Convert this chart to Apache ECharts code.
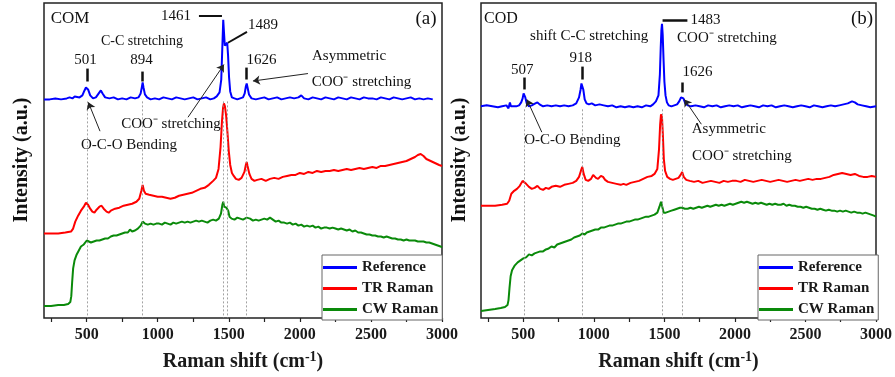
<!DOCTYPE html>
<html>
<head>
<meta charset="utf-8">
<script src="https://cdn.jsdelivr.net/npm/echarts@6/dist/echarts.min.js"></script>
<style>
  html, body { margin: 0; padding: 0; background: #fff; }
  #chart { width: 895px; height: 377px; }
</style>
</head>
<body>
<div id="chart"></div>
<script>
// Raman spectra of calcium oxalate: COM (panel a) and COD (panel b).
// Each series is a list of [Raman shift (cm-1), intensity (a.u., offset stacked)].

const comReference = [[200,220],[240,220],[280,221],[320,220],[360,221],[380,222],[400,221],[416,223],[430,221],[450,222],[470,224],[485,229],[495,232],[501,233],[510,230],[525,224],[545,221],[565,222],[585,226],[600,229],[612,226],[630,222],[660,221],[690,222],[720,220],[750,221],[780,220],[810,222],[840,221],[865,222],[880,226],[888,232],[894,237],[900,232],[910,225],[925,222],[950,220],[980,221],[1010,220],[1040,222],[1070,221],[1100,220],[1130,222],[1160,221],[1190,220],[1220,221],[1250,222],[1280,220],[1310,221],[1340,222],[1370,220],[1395,221],[1415,223],[1435,227],[1447,240],[1454,270],[1461,300],[1466,288],[1472,274],[1480,273],[1489,277],[1495,264],[1502,242],[1510,228],[1522,222],[1540,221],[1560,220],[1580,221],[1600,222],[1612,226],[1620,233],[1626,236],[1632,232],[1642,225],[1660,221],[1690,220],[1720,221],[1750,222],[1780,220],[1810,221],[1840,222],[1870,220],[1900,221],[1930,222],[1960,221],[1990,222],[2010,224],[2030,221],[2060,220],[2090,222],[2120,221],[2150,220],[2180,222],[2210,221],[2240,220],[2270,222],[2300,221],[2330,220],[2360,222],[2390,221],[2420,220],[2450,222],[2480,221],[2510,221],[2540,220],[2570,222],[2600,221],[2630,220],[2660,222],[2690,221],[2720,220],[2750,221],[2780,222],[2810,220],[2840,221],[2870,220],[2900,221],[2935,220]];

const comTR = [[200,85],[250,85],[300,85],[350,86],[390,87],[405,90],[420,97],[440,103],[460,108],[480,112],[495,116],[501,117],[510,114],[525,110],[540,107],[555,106],[570,109],[590,112],[605,113],[620,110],[640,107],[655,106],[670,108],[700,110],[730,111],[760,113],[790,114],[820,115],[850,117],[870,120],[885,128],[894,134],[903,128],[915,125],[940,124],[970,123],[1000,122],[1030,122],[1060,121],[1090,120],[1120,121],[1150,123],[1180,124],[1210,125],[1240,126],[1270,128],[1300,130],[1330,131],[1360,134],[1390,138],[1410,141],[1428,150],[1442,172],[1452,198],[1460,212],[1466,216],[1473,213],[1481,204],[1490,188],[1500,168],[1510,154],[1522,146],[1535,143],[1550,140],[1570,139],[1590,141],[1610,147],[1620,154],[1626,157],[1632,153],[1645,145],[1660,140],[1680,138],[1700,139],[1730,140],[1760,138],[1790,140],[1820,141],[1850,140],[1880,142],[1910,143],[1940,144],[1970,144],[2000,146],[2030,145],[2060,147],[2090,146],[2120,148],[2150,147],[2180,148],[2210,148],[2240,149],[2270,148],[2300,149],[2330,150],[2360,149],[2390,150],[2420,151],[2450,150],[2480,151],[2510,152],[2540,151],[2570,153],[2600,153],[2630,154],[2660,155],[2690,156],[2720,157],[2750,158],[2780,160],[2810,162],[2830,164],[2850,165],[2870,163],[2890,160],[2920,158],[2950,156],[2980,154],[3000,153]];

const comCW = [[200,12],[250,12],[300,13],[340,13],[370,14],[385,16],[392,22],[398,36],[405,50],[415,58],[430,64],[445,68],[460,72],[480,74],[501,78],[515,77],[530,76],[550,77],[570,78],[590,78],[610,79],[630,80],[650,80],[670,82],[690,83],[710,83],[730,84],[750,85],[770,86],[790,86],[805,89],[820,87],[840,88],[860,90],[880,93],[894,97],[910,95],[930,94],[950,95],[970,94],[990,95],[1010,95],[1030,94],[1050,96],[1070,95],[1090,94],[1110,96],[1130,95],[1150,96],[1170,97],[1190,96],[1210,97],[1230,96],[1250,97],[1270,98],[1290,97],[1310,98],[1330,97],[1350,96],[1370,98],[1390,99],[1410,98],[1430,100],[1445,105],[1455,114],[1461,117],[1467,112],[1475,110],[1483,111],[1489,113],[1496,108],[1505,102],[1520,100],[1540,99],[1560,101],[1580,100],[1600,99],[1626,101],[1650,100],[1670,98],[1690,99],[1710,98],[1730,99],[1750,100],[1770,99],[1790,101],[1810,99],[1830,97],[1850,98],[1870,96],[1890,96],[1910,95],[1930,96],[1950,94],[1970,95],[1990,93],[2010,94],[2030,92],[2050,93],[2070,92],[2090,93],[2110,91],[2130,92],[2150,90],[2170,91],[2190,91],[2210,90],[2230,91],[2250,90],[2270,89],[2290,90],[2310,89],[2330,88],[2350,89],[2370,87],[2390,88],[2410,86],[2430,86],[2450,85],[2470,84],[2490,84],[2510,83],[2530,83],[2550,82],[2570,82],[2590,81],[2610,82],[2630,81],[2650,80],[2670,80],[2690,79],[2710,79],[2730,78],[2750,79],[2770,78],[2790,78],[2810,78],[2830,77],[2850,77],[2870,77],[2890,76],[2910,76],[2930,75],[2950,74],[2970,73],[2990,72],[3000,71]];

const codReference = [[200,213],[240,214],[280,213],[320,212],[350,213],[380,214],[395,211],[405,217],[412,213],[425,212],[450,213],[470,214],[485,217],[495,221],[502,226],[507,228],[514,222],[524,216],[540,213],[560,214],[585,216],[600,217],[615,215],[640,213],[670,214],[700,213],[730,214],[760,213],[790,214],[820,213],[850,214],[875,216],[895,222],[906,230],[912,236],[918,238],[925,230],[935,220],[948,216],[965,215],[985,216],[1010,214],[1040,215],[1070,214],[1100,213],[1130,214],[1160,212],[1190,213],[1220,212],[1250,213],[1280,212],[1310,213],[1340,212],[1370,214],[1400,213],[1420,215],[1440,218],[1458,224],[1468,245],[1474,272],[1479,290],[1483,296],[1488,285],[1494,260],[1500,238],[1508,224],[1518,217],[1530,214],[1550,213],[1570,214],[1590,215],[1605,218],[1618,222],[1626,223],[1635,221],[1648,216],[1665,214],[1690,213],[1720,214],[1750,213],[1780,212],[1810,214],[1840,213],[1870,214],[1900,212],[1930,213],[1960,214],[1990,213],[2020,214],[2050,212],[2080,213],[2110,214],[2140,213],[2170,212],[2200,214],[2230,213],[2260,214],[2290,212],[2320,213],[2350,214],[2380,213],[2410,212],[2440,213],[2470,214],[2500,213],[2530,212],[2560,214],[2590,213],[2620,212],[2650,213],[2680,214],[2710,213],[2740,214],[2770,215],[2800,216],[2830,218],[2850,217],[2870,215],[2900,214],[2930,213],[2960,212],[3000,213]];

const codTR = [[200,113],[250,113],[300,113],[350,114],[385,115],[400,118],[415,125],[435,128],[455,130],[475,133],[495,138],[507,140],[520,135],[540,132],[560,130],[580,131],[600,133],[620,130],[640,129],[660,131],[680,130],[700,132],[730,133],[760,132],[790,134],[820,135],[850,136],[875,138],[895,142],[908,148],[918,152],[928,145],[942,139],[960,138],[980,140],[995,144],[1005,145],[1015,141],[1030,140],[1050,143],[1065,142],[1080,139],[1100,137],[1130,136],[1160,135],[1190,134],[1210,135],[1230,134],[1260,136],[1290,137],[1320,138],[1350,140],[1380,142],[1410,143],[1430,145],[1450,150],[1462,170],[1470,195],[1476,205],[1483,202],[1489,185],[1496,160],[1505,148],[1520,142],[1540,140],[1560,139],[1580,140],[1600,141],[1615,144],[1626,147],[1637,142],[1655,139],[1680,138],[1710,137],[1740,138],[1770,136],[1800,137],[1830,138],[1860,137],[1890,136],[1920,138],[1950,137],[1980,138],[2010,138],[2040,137],[2070,139],[2100,138],[2130,137],[2160,138],[2190,139],[2220,138],[2250,137],[2280,138],[2310,139],[2340,138],[2370,137],[2400,138],[2430,139],[2460,138],[2490,139],[2520,140],[2550,139],[2580,140],[2610,140],[2640,141],[2670,142],[2700,144],[2730,145],[2760,146],[2790,145],[2820,144],[2850,145],[2880,143],[2910,142],[2940,142],[2970,143],[3000,142]];

const codCW = [[200,7],[250,8],[300,9],[340,10],[370,11],[388,13],[395,18],[402,30],[410,42],[420,48],[440,53],[460,56],[480,58],[500,60],[507,61],[520,61],[540,64],[560,63],[580,65],[600,66],[620,67],[640,67],[660,69],[680,70],[700,72],[720,71],[740,74],[760,75],[780,76],[800,77],[820,78],[840,79],[860,81],[880,82],[900,83],[918,85],[935,84],[950,86],[970,87],[990,88],[1010,89],[1030,89],[1050,91],[1070,91],[1090,92],[1110,93],[1130,93],[1150,94],[1170,95],[1190,95],[1210,96],[1230,97],[1250,97],[1270,98],[1290,99],[1310,99],[1330,100],[1350,101],[1370,102],[1390,102],[1410,103],[1430,104],[1450,106],[1465,112],[1476,117],[1485,112],[1495,106],[1510,106],[1530,107],[1550,108],[1570,109],[1590,110],[1610,111],[1626,111],[1645,110],[1665,110],[1685,111],[1705,110],[1725,111],[1745,112],[1765,111],[1785,112],[1805,113],[1825,112],[1845,113],[1865,114],[1885,113],[1905,114],[1925,113],[1945,114],[1965,115],[1985,114],[2005,115],[2025,116],[2045,117],[2065,116],[2085,117],[2105,116],[2125,115],[2145,116],[2165,115],[2185,116],[2205,115],[2225,114],[2245,115],[2265,114],[2285,115],[2305,114],[2325,114],[2345,115],[2365,113],[2385,114],[2405,113],[2425,113],[2445,112],[2465,112],[2485,111],[2505,112],[2525,111],[2545,110],[2565,110],[2585,109],[2605,110],[2625,109],[2645,108],[2665,109],[2685,108],[2705,108],[2725,107],[2745,108],[2765,107],[2785,108],[2805,107],[2825,106],[2845,107],[2865,106],[2885,106],[2905,105],[2925,106],[2945,105],[2965,104],[2985,103],[3000,102]];

// Peak positions marked with dotted guides
const comPeaks = [501, 894, 1461, 1489, 1626];
const codPeaks = [507, 918, 1483, 1626];

// Axis ticks
const tickValues = [250, 500, 750, 1000, 1250, 1500, 1750, 2000, 2250, 2500, 2750, 3000];
const labelValues = [500, 1000, 1500, 2000, 2500, 3000];
const seriesNames = ['Reference', 'TR Raman', 'CW Raman'];
const seriesColors = ['#0000ff', '#ff0000', '#0a8a0a'];

const SERIF = "'Liberation Serif', 'Times New Roman', serif";
const chart = echarts.init(document.getElementById('chart'), null, { renderer: 'canvas' });

function txt(text, x, y, size) {
  return {
    coord: [x, y], symbol: 'circle', symbolSize: 1,
    itemStyle: { color: 'rgba(0,0,0,0)' },
    label: {
      show: true, position: 'inside', formatter: text,
      fontFamily: SERIF, fontSize: size || 15, color: '#111'
    }
  };
}
function seg(x1, y1, x2, y2, width) {
  return [
    { coord: [x1, y1], symbol: 'none', lineStyle: { type: 'solid', color: '#111', width: width || 2.5 } },
    { coord: [x2, y2], symbol: 'none' }
  ];
}
function arrow(x1, y1, x2, y2) {
  return [
    { coord: [x1, y1], symbol: 'none', lineStyle: { type: 'solid', color: '#222', width: 1 } },
    { coord: [x2, y2], symbol: 'arrow', symbolSize: 7 }
  ];
}
function guide(x, top) {
  return [
    { coord: [x, top], symbol: 'none', lineStyle: { type: [2, 2], color: '#8a8a8a', width: 0.8 } },
    { coord: [x, 0], symbol: 'none' }
  ];
}

function xAxisFor(gridIndex) {
  return {
    type: 'value', gridIndex, min: 200, max: 3000,
    axisLine: { show: false },
    splitLine: { show: false },
    axisTick: { show: true, customValues: tickValues, length: 4, inside: false,
      lineStyle: { color: '#222', width: 1.2 } },
    axisLabel: { customValues: labelValues, margin: 9, fontFamily: SERIF, fontWeight: 'bold',
      fontSize: 16, color: '#1a1a1a', formatter: v => String(v) },
    name: 'Raman shift (cm{sup|-1})',
    nameLocation: 'middle', nameGap: 32,
    nameTextStyle: {
      fontFamily: SERIF, fontWeight: 'bold', fontSize: 20, color: '#1a1a1a',
      rich: { sup: { fontFamily: SERIF, fontWeight: 'bold', fontSize: 14, color: '#1a1a1a',
        padding: [0, 0, 10, 0] } }
    }
  };
}
function yAxisFor(gridIndex) {
  return {
    type: 'value', gridIndex, min: 0, max: 317,
    axisLine: { show: false }, axisTick: { show: false },
    axisLabel: { show: false }, splitLine: { show: false }
  };
}
function lineSeries(name, data, idx, extra) {
  return Object.assign({
    name, type: 'line', data,
    xAxisIndex: idx, yAxisIndex: idx,
    showSymbol: false, symbol: 'none',
    lineStyle: { width: 2, color: seriesColors[seriesNames.indexOf(name)] },
    itemStyle: { color: seriesColors[seriesNames.indexOf(name)] },
    emphasis: { disabled: true }, animation: false
  }, extra || {});
}

const COO = 'COO\u207B stretching';

const comMarks = {
  markLine: {
    silent: true, animation: false, label: { show: false },
    data: comPeaks.map(p => guide(p, 218)).concat([
      seg(1290, 304, 1452, 304, 2),
      seg(1494, 277, 1628, 288, 2),
      seg(501, 251, 501, 238),
      seg(894, 248, 894, 238),
      seg(1626, 252, 1626, 240),
      arrow(2057, 246, 1670, 238.5),
      arrow(1213, 202, 1466, 255),
      arrow(594, 188, 512, 217)
    ])
  },
  markPoint: {
    silent: true, animation: false,
    data: [
      txt('1461', 1129, 304, 15),
      txt('1489', 1741, 295, 15),
      txt('C-C stretching', 889, 278, 14),
      txt('501', 492, 260),
      txt('894', 886, 260),
      txt('1626', 1730, 260),
      txt('Asymmetric', 2346, 264),
      txt(COO, 2434, 237),
      txt(COO, 1093, 195),
      txt('O-C-O Bending', 798, 174)
    ]
  }
};

const codMarks = {
  markLine: {
    silent: true, animation: false, label: { show: false },
    data: codPeaks.map(p => guide(p, 210)).concat([
      seg(1487, 300, 1663, 300, 2.5),
      seg(918, 253, 918, 240),
      seg(507, 242, 507, 230),
      seg(1626, 237, 1626, 227),
      arrow(631, 187, 525, 220),
      arrow(1762, 195, 1642, 220)
    ])
  },
  markPoint: {
    silent: true, animation: false,
    data: [
      txt('1483', 1791, 300),
      txt(COO, 1943, 282),
      txt('shift C-C stretching', 967, 284),
      txt('918', 907, 262),
      txt('507', 493, 250),
      txt('1626', 1734, 248),
      txt('O-C-O Bending', 847, 179),
      txt('Asymmetric', 1957, 190),
      txt(COO, 2049, 163)
    ]
  }
};

function legendAt(left, top) {
  return {
    left, top, orient: 'vertical',
    data: seriesNames,
    icon: 'rect', itemWidth: 34, itemHeight: 3, itemGap: 6,
    padding: [5, 4, 3, 1],
    backgroundColor: '#fff', borderColor: '#666', borderWidth: 1,
    selectedMode: false,
    textStyle: { fontFamily: SERIF, fontWeight: 'bold', fontSize: 15, lineHeight: 15, color: '#1a1a1a' }
  };
}

function label(text, x, y, size, rotate) {
  return {
    type: 'text', x, y, rotation: rotate ? Math.PI / 2 : 0, z: 20,
    style: {
      text, fontFamily: SERIF, fontSize: size, fontWeight: rotate ? 'bold' : 'normal',
      fill: '#111', align: 'center', verticalAlign: 'middle'
    }
  };
}

chart.setOption({
  animation: false,
  backgroundColor: '#fff',
  grid: [
    { left: 44, top: 3, width: 398, height: 317, show: true, borderColor: '#222', borderWidth: 1.5, backgroundColor: 'transparent' },
    { left: 481, top: 3, width: 396, height: 317, show: true, borderColor: '#222', borderWidth: 1.5, backgroundColor: 'transparent' }
  ],
  xAxis: [xAxisFor(0), xAxisFor(1)],
  yAxis: [yAxisFor(0), yAxisFor(1)],
  legend: [legendAt(322, 255), legendAt(758, 255)],
  graphic: [
    label('COM', 70, 19, 17),
    label('(a)', 426, 19, 19),
    label('COD', 501, 19, 16),
    label('(b)', 862, 19, 19),
    label('Intensity (a.u.)', 22, 160, 20, true),
    label('Intensity (a.u.)', 460, 160, 20, true)
  ],
  series: [
    lineSeries('Reference', comReference, 0, comMarks),
    lineSeries('TR Raman', comTR, 0),
    lineSeries('CW Raman', comCW, 0),
    lineSeries('Reference', codReference, 1, codMarks),
    lineSeries('TR Raman', codTR, 1),
    lineSeries('CW Raman', codCW, 1)
  ]
});
</script>
</body>
</html>
